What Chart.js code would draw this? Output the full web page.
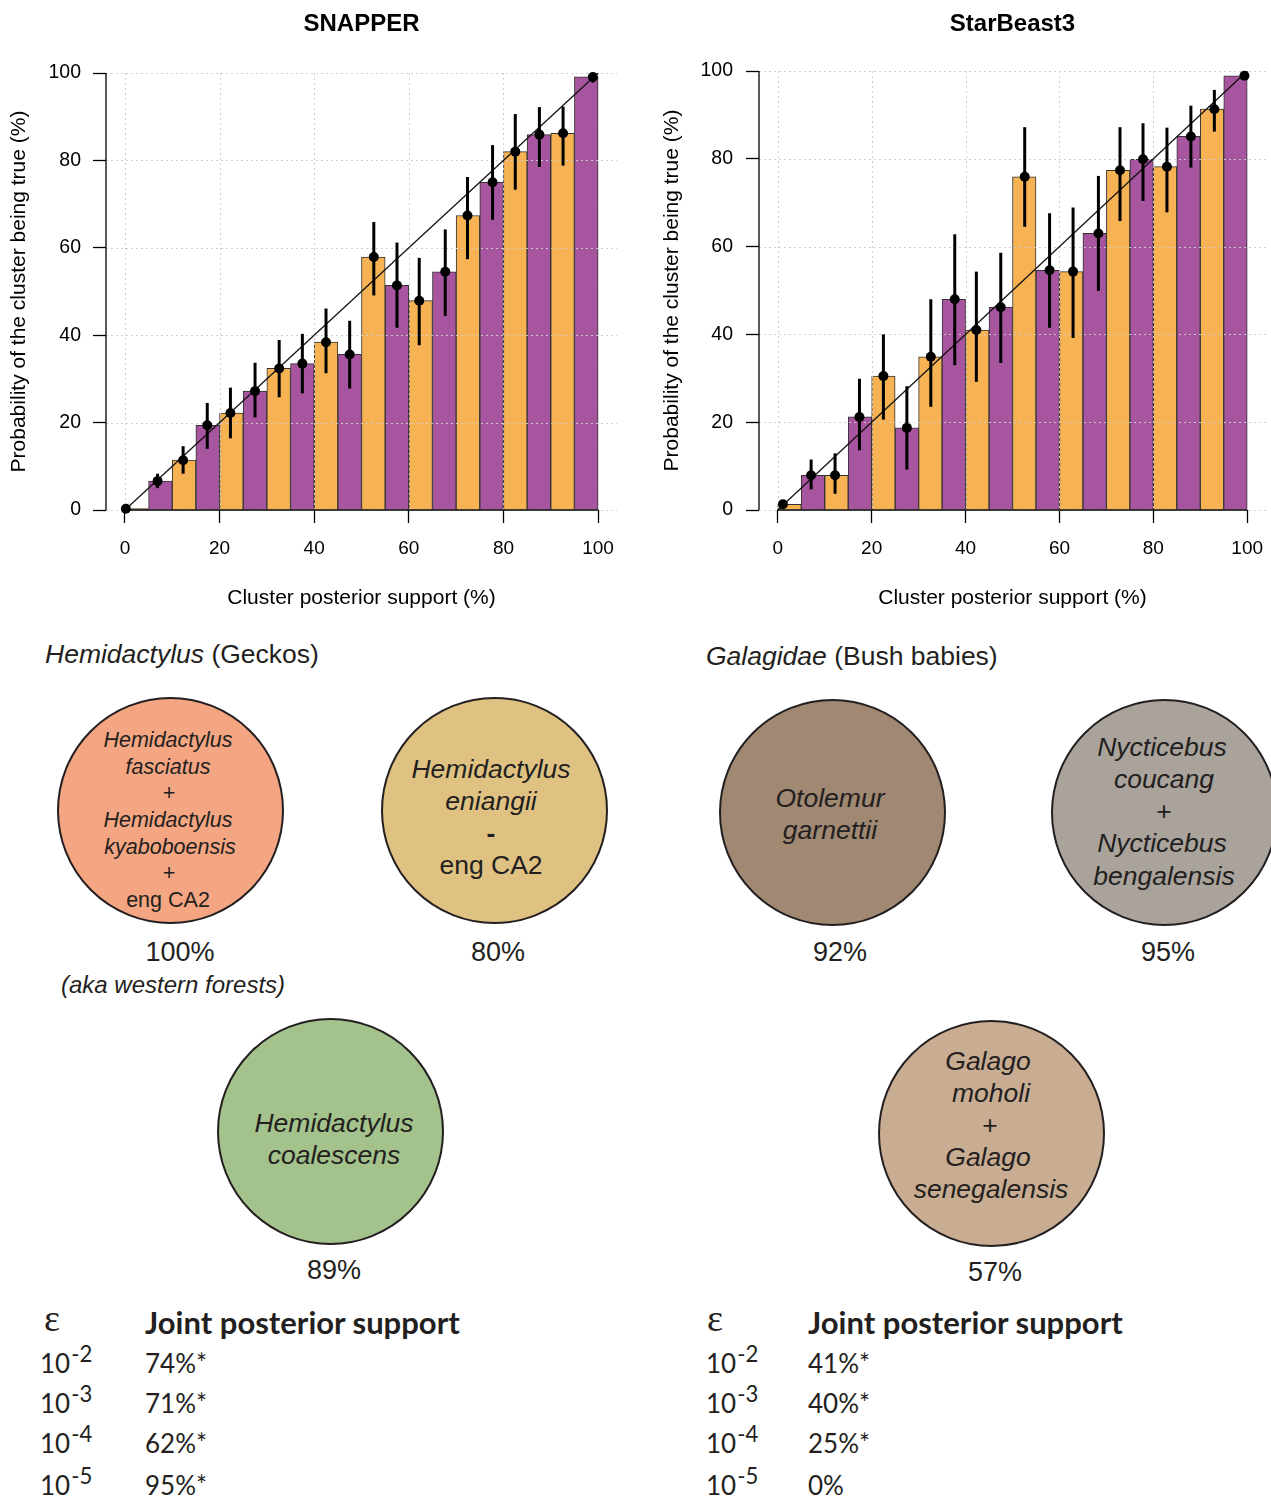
<!DOCTYPE html>
<html>
<head>
<meta charset="utf-8">
<script src="https://cdn.jsdelivr.net/npm/chart.js@4.4.1/dist/chart.umd.min.js"></script>
<style>
html,body{margin:0;padding:0;background:#fff;overflow:hidden;}
#page{position:relative;width:1271px;height:1496px;overflow:hidden;background:#fff;font-family:"Liberation Sans",Arial,sans-serif;color:#231f20;}
canvas{position:absolute;top:0;}
.t{position:absolute;white-space:nowrap;line-height:1;transform:translate(-50%,-50%);}
.l{position:absolute;white-space:nowrap;line-height:1;transform:translateY(-50%);}
.i{font-style:italic;}
.circle{position:absolute;border:2px solid #231f20;border-radius:50%;box-sizing:border-box;}
.tab{font-family:Lato,"Open Sans",sans-serif;}
.eps{font-family:"Liberation Serif",serif;font-size:38px;}
sup{font-size:0.85em;position:relative;top:-0.5em;vertical-align:baseline;margin-left:1px;}
</style>
</head>
<body>
<div id="page">
<canvas id="snapper" width="640" height="620" style="left:0px;width:640px;height:620px;"></canvas>
<canvas id="starbeast" width="631" height="620" style="left:640px;width:631px;height:620px;"></canvas>

<!-- Hemidactylus panel -->
<div class="l" style="left:45px;top:654px;font-size:26.5px;"><span class="i">Hemidactylus</span> (Geckos)</div>
<div class="circle" style="left:57px;top:697px;width:227px;height:227px;background:#f4a582;"></div>
<div class="t i" style="left:168px;top:741px;font-size:21.5px;">Hemidactylus</div>
<div class="t i" style="left:168px;top:768px;font-size:21.5px;">fasciatus</div>
<div class="t" style="left:169px;top:794px;font-size:21.5px;">+</div>
<div class="t i" style="left:168px;top:821px;font-size:21.5px;">Hemidactylus</div>
<div class="t i" style="left:170px;top:848px;font-size:21.5px;">kyaboboensis</div>
<div class="t" style="left:169px;top:874px;font-size:21.5px;">+</div>
<div class="t" style="left:168px;top:901px;font-size:21.5px;">eng CA2</div>
<div class="t" style="left:180px;top:952px;font-size:27px;">100%</div>
<div class="t i" style="left:173px;top:985px;font-size:24px;">(aka western forests)</div>

<div class="circle" style="left:381px;top:697px;width:227px;height:227px;background:#dfc282;"></div>
<div class="t i" style="left:491px;top:769px;font-size:26.5px;">Hemidactylus</div>
<div class="t i" style="left:491px;top:801px;font-size:26.5px;">eniangii</div>
<div class="t" style="left:491px;top:833px;font-size:26.5px;font-weight:bold;">-</div>
<div class="t" style="left:491px;top:865px;font-size:26.5px;">eng CA2</div>
<div class="t" style="left:498px;top:952px;font-size:27px;">80%</div>

<div class="circle" style="left:217px;top:1018px;width:227px;height:227px;background:#a3c28c;"></div>
<div class="t i" style="left:334px;top:1123px;font-size:26.5px;">Hemidactylus</div>
<div class="t i" style="left:334px;top:1155px;font-size:26.5px;">coalescens</div>
<div class="t" style="left:334px;top:1270px;font-size:27px;">89%</div>

<!-- Galagidae panel -->
<div class="l" style="left:706px;top:656px;font-size:26.5px;"><span class="i">Galagidae</span> (Bush babies)</div>
<div class="circle" style="left:719px;top:699px;width:227px;height:227px;background:#a08872;"></div>
<div class="t i" style="left:830px;top:798px;font-size:26.5px;">Otolemur</div>
<div class="t i" style="left:830px;top:830px;font-size:26.5px;">garnettii</div>
<div class="t" style="left:840px;top:952px;font-size:27px;">92%</div>

<div class="circle" style="left:1051px;top:699px;width:227px;height:227px;background:#a9a39b;"></div>
<div class="t i" style="left:1162px;top:747px;font-size:26.5px;">Nycticebus</div>
<div class="t i" style="left:1164px;top:779px;font-size:26.5px;">coucang</div>
<div class="t" style="left:1164px;top:811px;font-size:26.5px;">+</div>
<div class="t i" style="left:1162px;top:843px;font-size:26.5px;">Nycticebus</div>
<div class="t i" style="left:1164px;top:876px;font-size:26.5px;">bengalensis</div>
<div class="t" style="left:1168px;top:952px;font-size:27px;">95%</div>

<div class="circle" style="left:878px;top:1020px;width:227px;height:227px;background:#c9ad92;"></div>
<div class="t i" style="left:988px;top:1061px;font-size:26.5px;">Galago</div>
<div class="t i" style="left:991px;top:1093px;font-size:26.5px;">moholi</div>
<div class="t" style="left:990px;top:1125px;font-size:26.5px;">+</div>
<div class="t i" style="left:988px;top:1157px;font-size:26.5px;">Galago</div>
<div class="t i" style="left:991px;top:1189px;font-size:26.5px;">senegalensis</div>
<div class="t" style="left:995px;top:1272px;font-size:27px;">57%</div>

<!-- tables -->
<div id="tables"></div>
</div>

<script>
// ---------------- data ----------------
const binCenters = [2.5, 7.5, 12.5, 17.5, 22.5, 27.5, 32.5, 37.5, 42.5, 47.5,
                    52.5, 57.5, 62.5, 67.5, 72.5, 77.5, 82.5, 87.5, 92.5, 97.5];
const xTickValues = [0, 20, 40, 60, 80, 100];
const yTickValues = [0, 20, 40, 60, 80, 100];
const diagonal = [0, 100];

// SNAPPER: observed frequency per bin, mean support in bin, 95% interval
const snapperFreq   = [0.3, 6.6, 11.4, 19.4, 22.2, 27.2, 32.4, 33.5, 38.4, 35.6,
                       57.9, 51.4, 47.9, 54.5, 67.4, 75.0, 82.0, 85.9, 86.2, 99.1];
const snapperMean   = [0.2, 6.9, 12.3, 17.4, 22.3, 27.5, 32.6, 37.5, 42.5, 47.5,
                       52.6, 57.5, 62.2, 67.7, 72.4, 77.7, 82.5, 87.6, 92.6, 98.9];
const snapperLow    = [0.0, 5.0, 8.3, 14.0, 16.4, 21.2, 25.8, 26.7, 31.3, 27.8,
                       49.1, 41.7, 37.7, 44.4, 57.4, 66.4, 73.3, 78.5, 78.8, 97.8];
const snapperHigh   = [0.5, 8.3, 14.6, 24.5, 28.0, 33.7, 38.9, 40.3, 46.1, 43.3,
                       65.9, 61.2, 57.7, 64.2, 76.2, 83.5, 90.6, 92.2, 92.3, 99.6];

// StarBeast3
const sb3Freq       = [1.3, 7.9, 7.9, 21.2, 30.5, 18.7, 34.9, 48.0, 41.0, 46.2,
                       75.9, 54.6, 54.3, 63.0, 77.4, 79.9, 78.2, 85.1, 91.3, 98.9];
const sb3Mean       = [1.1, 7.1, 12.2, 17.4, 22.5, 27.5, 32.6, 37.7, 42.3, 47.5,
                       52.6, 57.9, 62.9, 68.3, 72.9, 77.8, 82.9, 88.0, 93.0, 99.4];
const sb3Low        = [1.0, 4.7, 3.7, 13.6, 20.6, 9.2, 23.5, 33.0, 29.2, 33.5,
                       64.5, 41.5, 39.2, 49.9, 65.8, 70.4, 67.8, 78.0, 86.2, 98.6];
const sb3High       = [1.6, 11.5, 12.9, 29.9, 40.0, 28.2, 48.0, 62.8, 54.3, 58.6,
                       87.2, 67.6, 68.9, 76.1, 87.2, 88.1, 87.1, 92.1, 95.7, 99.2];

// joint posterior support tables
const epsilonExponents = ["-2", "-3", "-4", "-5"];
const geckoJoint  = ["74%*", "71%*", "62%*", "95%*"];
const galagoJoint = ["41%*", "40%*", "25%*", "0%"];

// ---------------- styles ----------------
const ORANGE = '#f6b253';
const PURPLE = '#a8559f';
const FONT = '"Liberation Sans", Arial, sans-serif';

const gridAndErrorPlugin = {
  id: 'gridAndError',
  afterDatasetDraw(chart, args, opts) {
    const {ctx, chartArea: a, scales: {x, y}} = chart;
    if (args.index === 0) {
      ctx.save();
      ctx.strokeStyle = 'rgba(205,205,205,0.95)';
      ctx.lineWidth = 1;
      ctx.setLineDash([2, 3]);
      xTickValues.forEach(v => {
        const px = Math.round(x.getPixelForValue(v)) + 0.5;
        ctx.beginPath(); ctx.moveTo(px, a.top); ctx.lineTo(px, a.bottom); ctx.stroke();
      });
      yTickValues.forEach(v => {
        const py = Math.round(y.getPixelForValue(v)) + 0.5;
        ctx.beginPath(); ctx.moveTo(a.left, py); ctx.lineTo(a.right, py); ctx.stroke();
      });
      ctx.restore();
    }
    if (args.index === 1) {
      ctx.save();
      ctx.strokeStyle = '#000';
      ctx.lineWidth = 3;
      opts.mean.forEach((m, i) => {
        const px = x.getPixelForValue(m);
        ctx.beginPath();
        ctx.moveTo(px, y.getPixelForValue(opts.low[i]));
        ctx.lineTo(px, y.getPixelForValue(opts.high[i]));
        ctx.stroke();
      });
      ctx.restore();
    }
  },
  afterDraw(chart) {
    const {ctx, chartArea: a, scales: {x, y}} = chart;
    ctx.save();
    ctx.strokeStyle = '#000';
    ctx.lineWidth = 1.3;
    ctx.beginPath();
    ctx.moveTo(a.left, y.getPixelForValue(yTickValues[0]));
    ctx.lineTo(a.left, y.getPixelForValue(yTickValues[yTickValues.length - 1]));
    ctx.stroke();
    ctx.beginPath();
    ctx.moveTo(x.getPixelForValue(xTickValues[0]), a.bottom);
    ctx.lineTo(x.getPixelForValue(xTickValues[xTickValues.length - 1]), a.bottom);
    ctx.stroke();
    ctx.restore();
  }
};

function makeChart(id, title, freq, mean, low, high, g) {
  return new Chart(document.getElementById(id), {
    type: 'bar',
    data: {
      datasets: [
        {
          type: 'bar',
          data: binCenters.map((c, i) => ({x: c, y: freq[i]})),
          backgroundColor: binCenters.map((c, i) => i % 2 ? PURPLE : ORANGE),
          borderColor: '#333',
          borderWidth: 1,
          barPercentage: 1,
          categoryPercentage: 1,
          order: 3
        },
        {
          type: 'line',
          data: diagonal.map(v => ({x: v, y: v})),
          borderColor: '#111',
          borderWidth: 1.3,
          pointRadius: 0,
          tension: 0,
          order: 2
        },
        {
          type: 'scatter',
          data: mean.map((m, i) => ({x: m, y: freq[i]})),
          pointRadius: 5,
          pointBackgroundColor: '#000',
          pointBorderColor: '#000',
          borderWidth: 0,
          clip: false,
          order: 1
        }
      ]
    },
    options: {
      responsive: false,
      animation: false,
      devicePixelRatio: 1,
      layout: {padding: {left: 0, right: g.right, top: 0, bottom: 0}},
      plugins: {
        legend: {display: false},
        tooltip: {enabled: false},
        title: {
          display: true, text: title, fullSize: false, color: '#000',
          font: {family: FONT, size: 24, weight: 'bold'},
          padding: {top: 9.6, bottom: g.top - 9.6 - 28.8}
        },
        gridAndError: {mean: mean, low: low, high: high}
      },
      scales: {
        x: {
          type: 'linear', min: -4, max: 104, offset: false,
          afterBuildTicks: s => { s.ticks = xTickValues.map(v => ({value: v})); },
          afterFit: s => { s.height = 110; s.paddingLeft = 0; s.paddingRight = 0; },
          border: {display: false},
          grid: {display: true, offset: false, drawOnChartArea: false, drawTicks: true, tickLength: 13, tickColor: '#000', tickWidth: 1.3},
          ticks: {padding: 14, color: '#000', font: {family: FONT, size: 19}, maxRotation: 0, autoSkip: false},
          title: {display: true, text: 'Cluster posterior support (%)', color: '#000', font: {family: FONT, size: 21}, padding: {bottom: 9, top: 0}}
        },
        y: {
          type: 'linear', min: 0, max: 100,
          afterBuildTicks: s => { s.ticks = yTickValues.map(v => ({value: v})); },
          afterFit: s => { s.width = g.left; s.paddingTop = 0; s.paddingBottom = 0; },
          border: {display: false},
          grid: {display: true, drawOnChartArea: false, drawTicks: true, tickLength: 13, tickColor: '#000', tickWidth: 1.3},
          ticks: {padding: g.tickPad, color: '#000', font: {family: FONT, size: 19.5}},
          title: {display: true, text: 'Probability of the cluster being true (%)', color: '#000', font: {family: FONT, size: 21}, padding: {top: g.titlePad, bottom: 0}}
        }
      }
    },
    plugins: [gridAndErrorPlugin]
  });
}

makeChart('snapper', 'SNAPPER', snapperFreq, snapperMean, snapperLow, snapperHigh,
          {left: 106, right: 23, top: 73, tickPad: 12, titlePad: 7});
makeChart('starbeast', 'StarBeast3', sb3Freq, sb3Mean, sb3Low, sb3High,
          {left: 119, right: 1, top: 71, tickPad: 13, titlePad: 19.5});

// ---------------- tables ----------------
const rowY = [1363, 1403, 1443, 1485];
function buildTable(epsX, headX, tenX, values) {
  let html = '';
  html += `<div class="l eps" style="left:${epsX}px;top:1318px;">ε</div>`;
  html += `<div class="l tab" style="left:${headX}px;top:1322px;font-size:31px;font-weight:bold;">Joint posterior support</div>`;
  epsilonExponents.forEach((e, i) => {
    html += `<div class="l tab" style="left:${tenX}px;top:${rowY[i]}px;font-size:26px;">10<sup>${e}</sup></div>`;
    html += `<div class="l tab" style="left:${headX}px;top:${rowY[i]}px;font-size:26px;">${values[i]}</div>`;
  });
  return html;
}
document.getElementById('tables').innerHTML =
  buildTable(44, 145, 40, geckoJoint) + buildTable(707, 808, 706, galagoJoint);
</script>
</body>
</html>
